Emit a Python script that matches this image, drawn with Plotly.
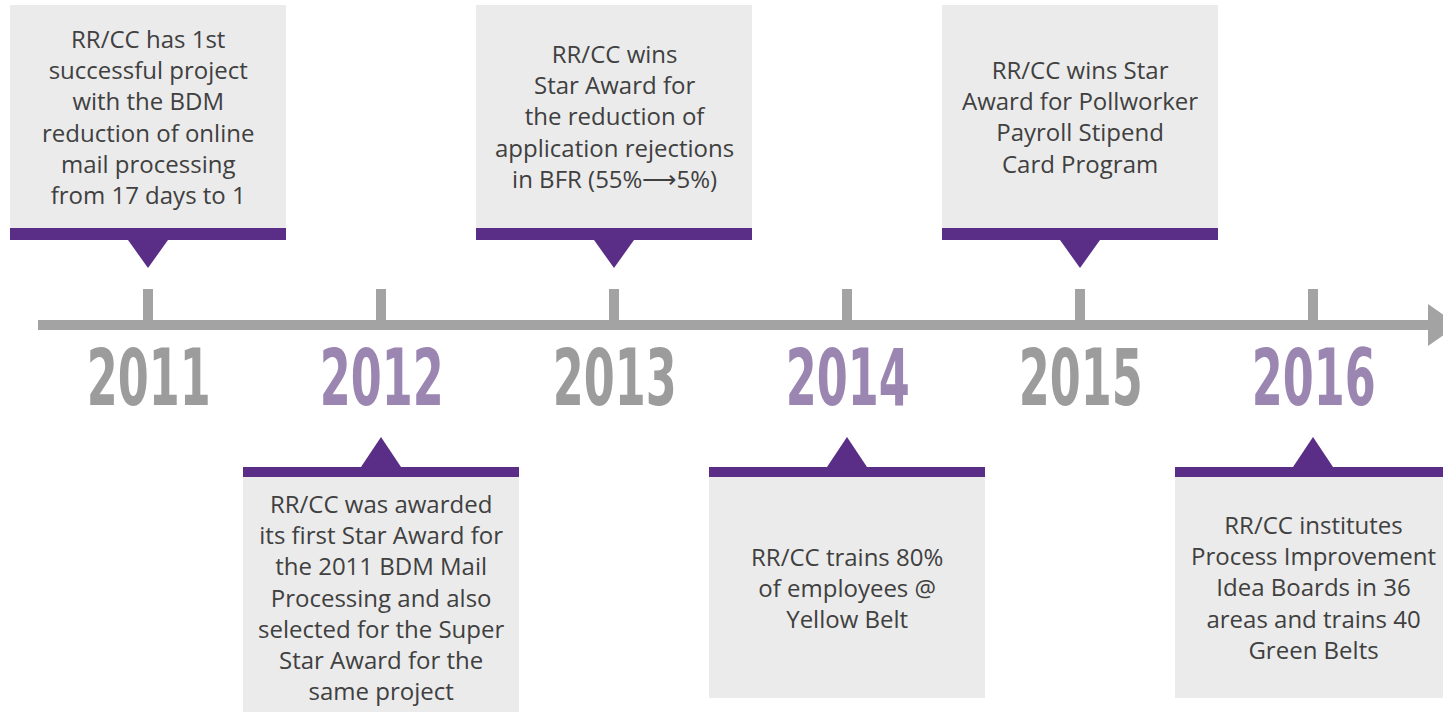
import plotly.graph_objects as go

# ---- data ----
years = [2011, 2012, 2013, 2014, 2015, 2016]
year_labels = ["2011", "2012", "2013", "2014", "2015", "2016"]
sides = ["above", "below", "above", "below", "above", "below"]
events = [
    "RR/CC has 1st<br>successful project<br>with the BDM<br>reduction of online<br>mail processing<br>from 17 days to 1",
    "RR/CC was awarded<br>its first Star Award for<br>the 2011 BDM Mail<br>Processing and also<br>selected for the Super<br>Star Award for the<br>same project",
    "RR/CC wins<br>Star Award for<br>the reduction of<br>application rejections<br>in BFR (55%\u27f65%)",
    "RR/CC trains 80%<br>of employees @<br>Yellow Belt",
    "RR/CC wins Star<br>Award for Pollworker<br>Payroll Stipend<br>Card Program",
    "RR/CC institutes<br>Process Improvement<br>Idea Boards in 36<br>areas and trains 40<br>Green Belts",
]

# ---- styling ----
W, H = 1443, 712
PX_PER_YEAR = 233.0
X_LEFT = years[0] - 148 / PX_PER_YEAR
X_RIGHT = X_LEFT + W / PX_PER_YEAR
AXIS_PX = 325  # pixel row of timeline


def dx(px):
    return px / PX_PER_YEAR


def y(pix):  # pixel row -> data value (timeline at 0, up positive)
    return AXIS_PX - pix


LINE_GREY = "#a3a3a3"
PURPLE = "#5a2d87"
BOX_GREY = "#ebebeb"
TEXT_COL = "#404040"
YEAR_GREY = "#9c9c9c"
YEAR_PURPLE = "#9a86b1"

fig = go.Figure()
# invisible anchor trace on the timeline
fig.add_trace(go.Scatter(x=years, y=[0] * len(years), mode="markers",
                         marker=dict(size=1, color="rgba(0,0,0,0)"),
                         hoverinfo="skip", showlegend=False))

shapes = []
annotations = []

# timeline
shapes.append(dict(type="line", xref="x", yref="y",
                   x0=X_LEFT + dx(38), x1=X_LEFT + dx(1430), y0=0, y1=0,
                   line=dict(color=LINE_GREY, width=10)))
# arrow head
ax = X_LEFT + dx(1428)
shapes.append(dict(type="path", xref="x", yref="y",
                   path=f"M {ax},{21} L {ax + dx(30)},0 L {ax},{-21} Z",
                   fillcolor=LINE_GREY, line=dict(width=0)))

half = dx(138)
tri = dx(20)
for i, yr in enumerate(years):
    # tick
    shapes.append(dict(type="line", xref="x", yref="y", x0=yr, x1=yr,
                       y0=0, y1=y(289), line=dict(color=LINE_GREY, width=10)))
    # year label
    annotations.append(dict(x=yr, y=y(378), xref="x", yref="y",
                            text=year_labels[i], showarrow=False,
                            xanchor="center", yanchor="middle",
                            font=dict(family="DejaVu Sans Condensed, DejaVu Sans, sans-serif",
                                      size=78, weight="bold",
                                      color=YEAR_GREY if i % 2 == 0 else YEAR_PURPLE)))
    if sides[i] == "above":
        box_top, box_bot = y(5), y(228)
        bar_top, bar_bot = y(228), y(240)
        tri_base, tri_tip = y(240), y(268)
        text_y = y(116)
    else:
        box_top, box_bot = y(477), y(730 if i == 1 else 698)
        bar_top, bar_bot = y(467), y(477)
        tri_base, tri_tip = y(467), y(437)
        text_y = y(597 if i == 1 else 587)
    shapes.append(dict(type="rect", xref="x", yref="y",
                       x0=yr - half, x1=yr + half, y0=box_bot, y1=box_top,
                       fillcolor=BOX_GREY, line=dict(width=0), layer="below"))
    shapes.append(dict(type="rect", xref="x", yref="y",
                       x0=yr - half, x1=yr + half, y0=bar_bot, y1=bar_top,
                       fillcolor=PURPLE, line=dict(width=0)))
    shapes.append(dict(type="path", xref="x", yref="y",
                       path=f"M {yr - tri},{tri_base} L {yr + tri},{tri_base} L {yr},{tri_tip} Z",
                       fillcolor=PURPLE, line=dict(width=0)))
    annotations.append(dict(x=yr, y=text_y, xref="x", yref="y",
                            text=events[i], showarrow=False,
                            xanchor="center", yanchor="middle", align="center",
                            font=dict(family="Open Sans, Noto Sans, sans-serif",
                                      size=24, weight=500, color=TEXT_COL)))

fig.update_layout(
    width=W, height=H,
    margin=dict(l=0, r=0, t=0, b=0),
    paper_bgcolor="white", plot_bgcolor="white",
    xaxis=dict(range=[X_LEFT, X_RIGHT], visible=False, fixedrange=True),
    yaxis=dict(range=[y(H), y(0)], visible=False, fixedrange=True),
    shapes=shapes, annotations=annotations, showlegend=False,
)

# remove default page margin and narrow the big year numerals (condensed look)
post_js = """
document.body.style.margin = '0';
var gd = document.getElementById('{plot_id}');
gd.querySelectorAll('g.annotation text.annotation-text').forEach(function(t){
  if (/^20\\d\\d$/.test(t.textContent)) {
    var b = t.getBBox();
    var cx = b.x + b.width / 2;
    var s = 124 / b.width;
    var ex = t.getAttribute('transform') || '';
    t.setAttribute('transform', ex + ' translate(' + cx + ',0) scale(' + s + ',1) translate(' + (-cx) + ',0)');
  }
});
"""

fig.write_html("out.html", post_script=post_js, config={"displayModeBar": False})
